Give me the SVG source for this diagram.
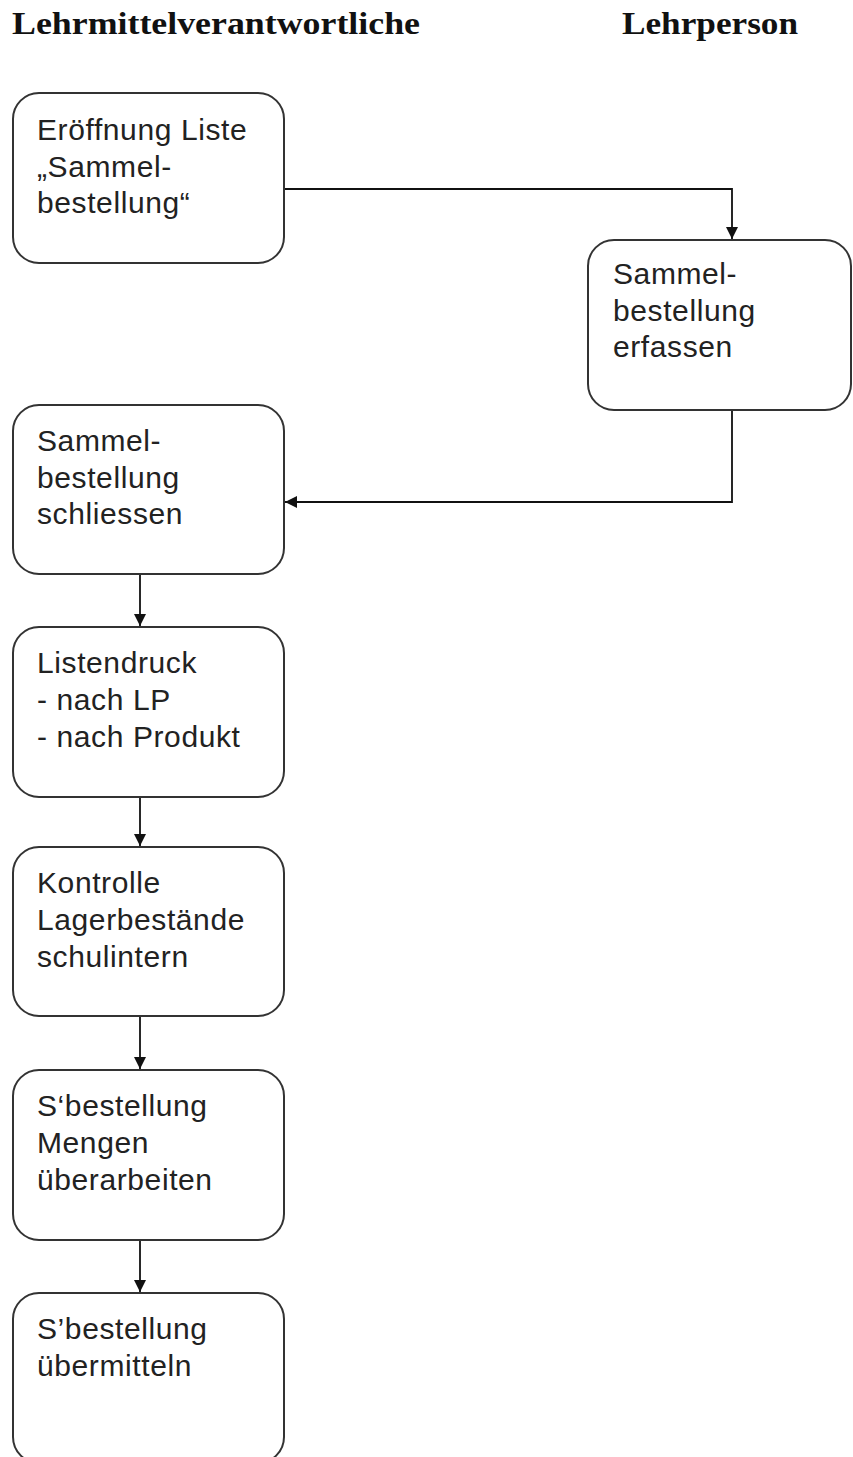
<svg xmlns="http://www.w3.org/2000/svg" width="853" height="1457" viewBox="0 0 853 1457">
<defs>
<style>
.box{fill:#fff;stroke:#333;stroke-width:2}
.t{font-family:"Liberation Sans",Arial,sans-serif;font-size:30px;fill:#222;letter-spacing:0.6px}
.h{font-family:"Liberation Serif","Times New Roman",serif;font-size:31px;font-weight:bold;fill:#111}
.c{fill:none;stroke:#111;stroke-width:1.8}
</style>
<marker id="arr" viewBox="0 0 10 10" refX="10" refY="5" markerWidth="12" markerHeight="12" markerUnits="userSpaceOnUse" orient="auto">
<path d="M0,0 L10,5 L0,10 z" fill="#111"/>
</marker>
</defs>
<rect width="853" height="1457" fill="#fff"/>
<g id="headers">
<text class="h" x="12" y="34" textLength="408" lengthAdjust="spacingAndGlyphs">Lehrmittelverantwortliche</text>
<text class="h" x="622" y="34" textLength="176" lengthAdjust="spacingAndGlyphs">Lehrperson</text>
</g>
<g id="connectors">
<path class="c" d="M284,189 H732 V239" marker-end="url(#arr)"/>
<path class="c" d="M732,410 V502 H285" marker-end="url(#arr)"/>
<path class="c" d="M140,574 V626" marker-end="url(#arr)"/>
<path class="c" d="M140,797 V846" marker-end="url(#arr)"/>
<path class="c" d="M140,1016 V1069" marker-end="url(#arr)"/>
<path class="c" d="M140,1240 V1292" marker-end="url(#arr)"/>
</g>
<g id="n1">
<rect class="box" x="13" y="93" width="271" height="170" rx="26"/>
<text class="t" x="37" y="140">Eröffnung Liste</text>
<text class="t" x="37" y="177">„Sammel-</text>
<text class="t" x="37" y="213">bestellung“</text>
</g>
<g id="n2">
<rect class="box" x="588" y="240" width="263" height="170" rx="26"/>
<text class="t" x="613" y="284">Sammel-</text>
<text class="t" x="613" y="321">bestellung</text>
<text class="t" x="613" y="357">erfassen</text>
</g>
<g id="n3">
<rect class="box" x="13" y="405" width="271" height="169" rx="26"/>
<text class="t" x="37" y="451">Sammel-</text>
<text class="t" x="37" y="488">bestellung</text>
<text class="t" x="37" y="524">schliessen</text>
</g>
<g id="n4">
<rect class="box" x="13" y="627" width="271" height="170" rx="26"/>
<text class="t" x="37" y="673">Listendruck</text>
<text class="t" x="37" y="710">- nach LP</text>
<text class="t" x="37" y="747">- nach Produkt</text>
</g>
<g id="n5">
<rect class="box" x="13" y="847" width="271" height="169" rx="26"/>
<text class="t" x="37" y="893">Kontrolle</text>
<text class="t" x="37" y="930">Lagerbestände</text>
<text class="t" x="37" y="967">schulintern</text>
</g>
<g id="n6">
<rect class="box" x="13" y="1070" width="271" height="170" rx="26"/>
<text class="t" x="37" y="1116">S‘bestellung</text>
<text class="t" x="37" y="1153">Mengen</text>
<text class="t" x="37" y="1190">überarbeiten</text>
</g>
<g id="n7">
<rect class="box" x="13" y="1293" width="271" height="170" rx="26"/>
<text class="t" x="37" y="1339">S’bestellung</text>
<text class="t" x="37" y="1376">übermitteln</text>
</g>
</svg>
